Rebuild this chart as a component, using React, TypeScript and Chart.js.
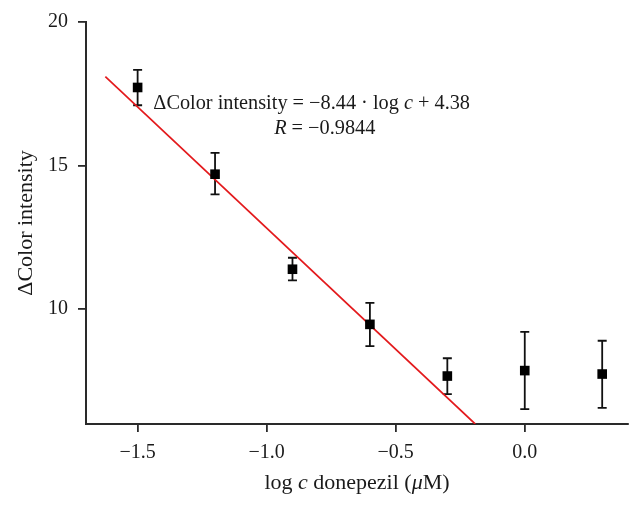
import React, { useEffect, useRef } from "react";
import { Chart, registerables } from "chart.js";

Chart.register(...registerables);

// ---- data ----
const logC = [-1.5, -1.2, -0.9, -0.6, -0.3, 0.0, 0.3];
const intensity = [17.72, 14.7, 11.39, 9.47, 7.67, 7.86, 7.74];
const errUpper = [18.33, 15.44, 11.79, 10.22, 8.29, 9.21, 8.9];
const errLower = [17.1, 14.0, 11.0, 8.71, 7.04, 6.52, 6.56];
const fitSlope = -8.44;
const fitIntercept = 4.38;
const fitXRange = [-1.625, -0.192];
const xTicks = [-1.5, -1.0, -0.5, 0.0];
const yTicks = [10, 15, 20];
const xMin = -1.7;
const xMax = 0.4;
const yMin = 6;
const yMax = 20;

const FONT = '"Liberation Serif", "Times New Roman", serif';
const AXIS = "#2a2a2a";

type Seg = { t: string; i?: boolean };

function drawRich(ctx: CanvasRenderingContext2D, segs: Seg[], x: number, y: number, size: number, align: "left" | "center") {
  let total = 0;
  const widths = segs.map((s) => {
    ctx.font = `${s.i ? "italic " : ""}${size}px ${FONT}`;
    const w = ctx.measureText(s.t).width;
    total += w;
    return w;
  });
  let cx = align === "center" ? x - total / 2 : x;
  ctx.textAlign = "left";
  ctx.textBaseline = "alphabetic";
  segs.forEach((s, k) => {
    ctx.font = `${s.i ? "italic " : ""}${size}px ${FONT}`;
    ctx.fillText(s.t, cx, y);
    cx += widths[k];
  });
}

const fmt = (v: number) => (v < 0 ? "\u2212" : "") + Math.abs(v).toFixed(1);

export default function App() {
  const ref = useRef<HTMLCanvasElement>(null);

  useEffect(() => {
    if (!ref.current) return;

    const errorBars = {
      id: "errorBars",
      beforeDatasetsDraw(chart: any) {
        const { ctx, scales } = chart;
        const xs = scales.x;
        const ys = scales.y;
        ctx.save();
        ctx.strokeStyle = "#111";
        ctx.lineWidth = 1.8;
        logC.forEach((xv, i) => {
          const px = xs.getPixelForValue(xv);
          const top = ys.getPixelForValue(errUpper[i]);
          const bot = ys.getPixelForValue(errLower[i]);
          ctx.beginPath();
          ctx.moveTo(px, top);
          ctx.lineTo(px, bot);
          ctx.moveTo(px - 4.5, top);
          ctx.lineTo(px + 4.5, top);
          ctx.moveTo(px - 4.5, bot);
          ctx.lineTo(px + 4.5, bot);
          ctx.stroke();
        });
        ctx.restore();
      },
    };

    const texts = {
      id: "texts",
      afterDraw(chart: any) {
        const { ctx, scales, chartArea } = chart;
        const xs = scales.x;
        const ys = scales.y;
        ctx.save();
        ctx.fillStyle = "#1a1a1a";
        // equation annotation
        drawRich(
          ctx,
          [{ t: "\u0394Color intensity = \u22128.44 \u00b7 log " }, { t: "c", i: true }, { t: " + 4.38" }],
          xs.getPixelForValue(-1.439),
          ys.getPixelForValue(16.97),
          20.3,
          "left"
        );
        drawRich(
          ctx,
          [{ t: "R", i: true }, { t: " = \u22120.9844" }],
          xs.getPixelForValue(-0.971),
          ys.getPixelForValue(16.1),
          20.3,
          "left"
        );
        // x title
        drawRich(
          ctx,
          [{ t: "log " }, { t: "c", i: true }, { t: " donepezil (" }, { t: "\u03bc", i: true }, { t: "M)" }],
          (chartArea.left + chartArea.right) / 2,
          489,
          22,
          "center"
        );
        // y title
        ctx.translate(32, (chartArea.top + chartArea.bottom) / 2);
        ctx.rotate(-Math.PI / 2);
        drawRich(ctx, [{ t: "\u0394Color intensity" }], 0, 0, 22, "center");
        ctx.restore();
      },
    };

    const chart = new Chart(ref.current, {
      type: "scatter",
      data: {
        datasets: [
          {
            type: "line",
            label: "fit",
            data: fitXRange.map((x) => ({ x, y: fitSlope * x + fitIntercept })),
            borderColor: "#e3191c",
            borderWidth: 1.7,
            pointRadius: 0,
            fill: false,
            order: 1,
          } as any,
          {
            label: "data",
            data: logC.map((x, i) => ({ x, y: intensity[i] })),
            pointStyle: "rect",
            pointRadius: 6.8,
            pointHoverRadius: 6.8,
            backgroundColor: "#000",
            borderColor: "#000",
            borderWidth: 0,
            order: 0,
          },
        ],
      },
      options: {
        animation: false,
        responsive: false,
        devicePixelRatio: 1,
        events: [],
        layout: { padding: { top: 22, right: 14, left: 0, bottom: 0 } },
        plugins: { legend: { display: false }, tooltip: { enabled: false } },
        scales: {
          x: {
            type: "linear",
            min: xMin,
            max: xMax,
            afterBuildTicks: (s: any) => {
              s.ticks = xTicks.map((v) => ({ value: v }));
            },
            afterFit: (s: any) => {
              s.height = 84;
            },
            grid: { drawOnChartArea: false, drawTicks: true, tickLength: 8, color: AXIS, lineWidth: 1.8 },
            border: { display: true, color: AXIS, width: 2 },
            ticks: {
              callback: (v: any) => fmt(Number(v)),
              font: { family: FONT, size: 20 },
              color: "#1a1a1a",
              padding: 9,
              maxRotation: 0,
            },
          },
          y: {
            type: "linear",
            min: yMin,
            max: yMax,
            afterBuildTicks: (s: any) => {
              s.ticks = yTicks.map((v) => ({ value: v }));
            },
            afterFit: (s: any) => {
              s.width = 86;
            },
            grid: { drawOnChartArea: false, drawTicks: true, tickLength: 8, color: AXIS, lineWidth: 1.8 },
            border: { display: true, color: AXIS, width: 2 },
            ticks: {
              callback: (v: any) => String(v),
              font: { family: FONT, size: 20 },
              color: "#1a1a1a",
              padding: 10,
            },
          },
        },
      },
      plugins: [errorBars, texts],
    } as any);

    return () => chart.destroy();
  }, []);

  return (
    <div style={{ position: "absolute", left: 0, top: 0, width: 642, height: 508, background: "#fff" }}>
      <canvas ref={ref} width={642} height={508} style={{ width: 642, height: 508, display: "block" }} />
    </div>
  );
}
